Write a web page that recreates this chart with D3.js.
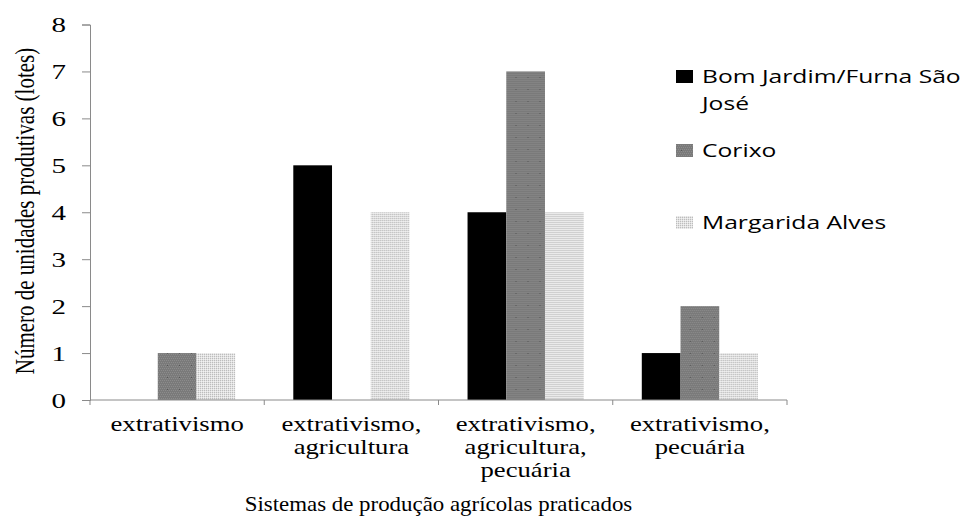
<!DOCTYPE html>
<html>
<head>
<meta charset="utf-8">
<script src="https://cdn.jsdelivr.net/npm/d3@7"></script>
<style>
  body { margin: 0; background: #fff; }
  svg { display: block; }
  .serif { font-family: "Liberation Serif", "DejaVu Serif", serif; fill: #000; }
  .sans { font-family: "Open Sans", "Liberation Sans", sans-serif; fill: #000; }
</style>
</head>
<body>
<div id="chart"></div>
<script>
// data
const categories = ['c1', 'c2', 'c3', 'c4'];
const categoryLabels = [
  ['extrativismo'],
  ['extrativismo,', 'agricultura'],
  ['extrativismo,', 'agricultura,', 'pecuária'],
  ['extrativismo,', 'pecuária']
];
const seriesNames = ['Bom Jardim/Furna São José', 'Corixo', 'Margarida Alves'];
const bomJardim = [0, 5, 4, 1];
const corixo = [1, 0, 7, 2];
const margarida = [1, 4, 4, 1];
const yTicks = [0, 1, 2, 3, 4, 5, 6, 7, 8];
const yTitle = 'Número de unidades produtivas (lotes)';
const xTitle = 'Sistemas de produção agrícolas praticados';

const width = 974;
const height = 516;
const plot = { left: 90, right: 787, top: 24.5, bottom: 400 };

const svg = d3.select('#chart')
  .append('svg')
  .attr('width', width)
  .attr('height', height);

// fill patterns
const defs = svg.append('defs');

const corixoPat = defs.append('pattern')
  .attr('id', 'pat-corixo')
  .attr('patternUnits', 'userSpaceOnUse')
  .attr('width', 12)
  .attr('height', 12);
corixoPat.append('rect').attr('width', 12).attr('height', 12).attr('fill', '#7a7a7a');
for (let i = 0; i < 12; i += 2) {
  for (let j = 0; j < 12; j += 2) {
    corixoPat.append('rect')
      .attr('x', i + ((j / 2) % 2))
      .attr('y', j)
      .attr('width', 1).attr('height', 1)
      .attr('fill', '#8c8c8c');
  }
}
corixoPat.append('rect').attr('x', 5).attr('y', 5).attr('width', 1).attr('height', 1).attr('fill', '#555');

const margPat = defs.append('pattern')
  .attr('id', 'pat-marg')
  .attr('patternUnits', 'userSpaceOnUse')
  .attr('width', 2)
  .attr('height', 2);
margPat.append('rect').attr('width', 2).attr('height', 2).attr('fill', '#e2e2e2');
margPat.append('rect').attr('width', 1).attr('height', 1).attr('fill', '#bdbdbd');
margPat.append('rect').attr('x', 1).attr('y', 1).attr('width', 1).attr('height', 1).attr('fill', '#f2f2f2');

const fills = ['#000', 'url(#pat-corixo)', 'url(#pat-marg)'];
const series = [bomJardim, corixo, margarida];

// scales
const x0 = d3.scaleBand()
  .domain(categories)
  .range([plot.left, plot.right]);

const x1 = d3.scaleBand()
  .domain(d3.range(series.length))
  .range([x0.bandwidth() / 6, x0.bandwidth() * 5 / 6]);

const y = d3.scaleLinear()
  .domain([0, 8])
  .range([plot.bottom, plot.top]);

// bars
const groups = svg.append('g')
  .attr('class', 'bars')
  .selectAll('g')
  .data(categories)
  .enter()
    .append('g')
    .attr('transform', d => `translate(${x0(d)},0)`);

groups.selectAll('rect')
  .data((d, ci) => series.map((s, si) => ({ si, v: s[ci] })))
  .enter()
    .append('rect')
    .attr('x', d => x1(d.si))
    .attr('width', x1.bandwidth())
    .attr('y', d => y(d.v))
    .attr('height', d => plot.bottom - y(d.v))
    .attr('fill', d => fills[d.si]);

// y axis
const yAxis = svg.append('g')
  .attr('transform', `translate(${plot.left},0)`)
  .call(d3.axisLeft(y).tickValues(yTicks).tickSize(8).tickFormat(d3.format('d')));
yAxis.select('.domain').attr('stroke', '#8a8a8a');
yAxis.selectAll('.tick line').attr('stroke', '#8a8a8a');
yAxis.selectAll('.tick text').remove();

// picture is stretched sideways, so the text is too
yAxis.selectAll('.tick')
  .append('text')
  .attr('class', 'serif')
  .attr('text-anchor', 'end')
  .attr('font-size', 20)
  .attr('transform', 'translate(-24,7) scale(1.45,1)')
  .text(d => d);

// x axis
const xAxisG = svg.append('g')
  .attr('transform', `translate(0,${plot.bottom})`);
xAxisG.append('line')
  .attr('x1', plot.left).attr('x2', plot.right)
  .attr('stroke', '#8a8a8a');
xAxisG.selectAll('line.tick')
  .data(categories.concat(['end']))
  .enter()
    .append('line')
    .attr('class', 'tick')
    .attr('x1', d => d === 'end' ? plot.right : x0(d))
    .attr('x2', d => d === 'end' ? plot.right : x0(d))
    .attr('y1', 0)
    .attr('y2', 5)
    .attr('stroke', '#8a8a8a');

const catText = svg.append('g')
  .selectAll('text')
  .data(categories)
  .enter()
    .append('text')
    .attr('class', 'serif')
    .attr('font-size', 21)
    .attr('text-anchor', 'middle')
    .attr('transform', d => `translate(${x0(d) + x0.bandwidth() / 2},431) scale(1.27,1)`);

catText.selectAll('tspan')
  .data((d, i) => categoryLabels[i])
  .enter()
    .append('tspan')
    .attr('x', 0)
    .attr('dy', (d, i) => i === 0 ? 0 : 23)
    .text(d => d);

// axis titles
svg.append('text')
  .attr('class', 'serif')
  .attr('font-size', 21)
  .attr('text-anchor', 'middle')
  .attr('transform', `translate(${(plot.left + plot.right) / 2},511) scale(1.09,1)`)
  .text(xTitle);

svg.append('text')
  .attr('class', 'serif')
  .attr('font-size', 21)
  .attr('text-anchor', 'middle')
  .attr('transform', 'translate(34,211) scale(1.3,1) rotate(-90)')
  .text(yTitle);

// legend
const legendRows = [
  { lines: ['Bom Jardim/Furna São', 'José'], y: 83 },
  { lines: ['Corixo'], y: 157 },
  { lines: ['Margarida Alves'], y: 229 }
];

const legend = svg.append('g')
  .selectAll('g')
  .data(legendRows)
  .enter()
    .append('g')
    .attr('transform', d => `translate(676,${d.y})`);

legend.append('rect')
  .attr('x', 0)
  .attr('y', -13)
  .attr('width', 17)
  .attr('height', 13)
  .attr('fill', (d, i) => fills[i]);

const legText = legend.append('text')
  .attr('class', 'sans')
  .attr('font-size', 18)
  .attr('transform', 'translate(26,0) scale(1.37,1)');

legText.selectAll('tspan')
  .data(d => d.lines)
  .enter()
    .append('tspan')
    .attr('x', 0)
    .attr('dy', (d, i) => i === 0 ? 0 : 27)
    .text(d => d);
</script>
</body>
</html>
